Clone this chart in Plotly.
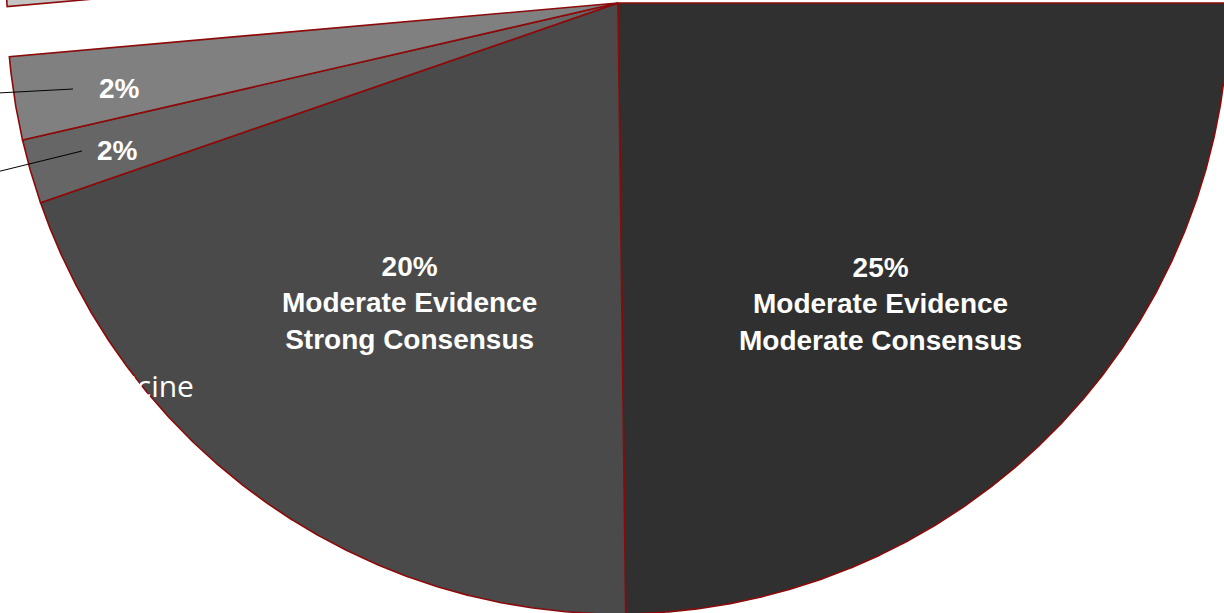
import numpy as np
import plotly.graph_objects as go

# ---- data -------------------------------------------------------------
# share of each slice in percent, clockwise from the 3 o'clock position
shares = [24.8, 19.9, 1.7, 2.2, 51.4]
# category text printed inside the two large slices
inside_names = [
    "Moderate Evidence<br>Moderate Consensus",
    "Moderate Evidence<br>Strong Consensus",
    None,
    None,
    None,
]
# slices that carry a percentage label in view
labelled = [True, True, True, True, False]
side_caption = "Medicine"

# ---- styles -----------------------------------------------------------
slice_colors = ["#303030", "#4a4a4a", "#666666", "#808080", "#c4c4c4"]
pulls = [0, 0, 0, 0, 0.082]
edge_color = "#8c0a0a"
W, H = 1224, 613
CX, CY, R = 618, 3, 611           # pie centre and radius in axis units
label_pos = [(880, 304), (409, 303), (117, 150), (119, 88)]
# leader lines run from the small slices toward their outside labels
leader_pts = [None, None, [(82, 151), (-40, 181)], [(73, 89), (-40, 95)]]

total = float(sum(shares))
edges = np.concatenate([[0.0], np.cumsum(shares)]) / total * 360.0

fig = go.Figure()

for i, val in enumerate(shares):
    a0, a1 = edges[i], edges[i + 1]
    mid = np.radians((a0 + a1) / 2)
    ox = pulls[i] * R * np.cos(mid)
    oy = pulls[i] * R * np.sin(mid)
    t = np.radians(np.linspace(a0, a1, max(3, int((a1 - a0) * 6))))
    xs = np.concatenate([[CX + ox], CX + ox + R * np.cos(t), [CX + ox]])
    ys = np.concatenate([[CY + oy], CY + oy + R * np.sin(t), [CY + oy]])
    fig.add_trace(go.Scatter(
        x=xs, y=ys, mode="lines", fill="toself",
        fillcolor=slice_colors[i],
        line=dict(color=edge_color, width=1.6),
        hoverinfo="skip", showlegend=False,
    ))

# leader lines for the outside labels
for pts in leader_pts:
    if pts is None:
        continue
    fig.add_trace(go.Scatter(
        x=[p[0] for p in pts], y=[p[1] for p in pts], mode="lines",
        line=dict(color="#000000", width=1),
        hoverinfo="skip", showlegend=False,
    ))

label_font = dict(family="Arial, Liberation Sans, sans-serif", size=28,
                  color="#ffffff", weight="bold")
k = 0
for i, val in enumerate(shares):
    if not labelled[i]:
        continue
    txt = f"{round(val)}%"
    if inside_names[i]:
        txt += "<br>" + inside_names[i]
    x, y = label_pos[k]
    k += 1
    fig.add_annotation(x=x, y=y, xref="x", yref="y", text=txt,
                       showarrow=False, font=label_font,
                       xanchor="center", yanchor="middle", align="center")

fig.add_annotation(x=196, y=385, xref="x", yref="y", text=side_caption,
                   showarrow=False, xanchor="right", yanchor="middle",
                   font=dict(family="Open Sans, sans-serif", size=30,
                             color="#ffffff"))

fig.update_layout(
    width=W, height=H,
    margin=dict(l=0, r=0, t=0, b=0),
    paper_bgcolor="#ffffff", plot_bgcolor="#ffffff",
    xaxis=dict(range=[0, W], visible=False, fixedrange=True),
    yaxis=dict(range=[H, 0], visible=False, fixedrange=True),
    showlegend=False,
)

fig.write_html("out.html")
